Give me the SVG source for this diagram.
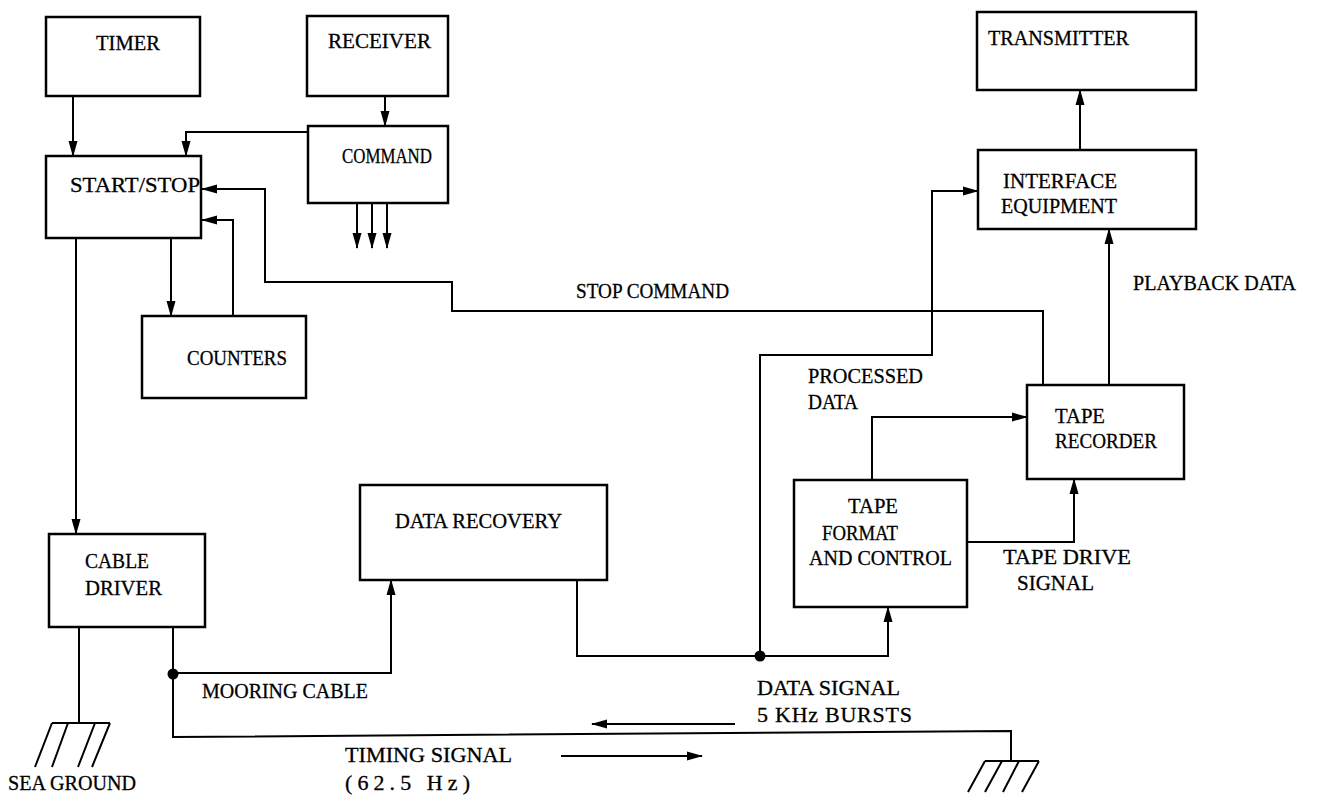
<svg xmlns="http://www.w3.org/2000/svg" width="1319" height="798" viewBox="0 0 1319 798">
<defs>
<marker id="ah" markerUnits="userSpaceOnUse" markerWidth="16" markerHeight="10" refX="15" refY="5" orient="auto" viewBox="0 0 16 10">
<path d="M0,0.5 L16,5 L0,9.5 Z" fill="#000"/>
</marker>
<style>
.box{fill:#fff;stroke:#000;stroke-width:2.5}
.ln{fill:none;stroke:#000;stroke-width:2;stroke-linejoin:miter}
.ar{fill:none;stroke:#000;stroke-width:2;marker-end:url(#ah)}
text{font-family:"Liberation Serif","Times New Roman",serif;font-size:22px;fill:#000;stroke:#000;stroke-width:0.3}
</style>
</defs>
<rect width="1319" height="798" fill="#fff"/>
<g id="connectors">
<path class="ar" d="M73,96 V156"/>
<path class="ar" d="M385,96 V126"/>
<path class="ar" d="M308,132 H186 V156"/>
<path class="ar" d="M357,203 V248"/>
<path class="ar" d="M372,203 V248"/>
<path class="ar" d="M387,203 V248"/>
<path class="ar" d="M1043,385 V311 H452 V282 H265 V189 H202"/>
<path class="ar" d="M233,316 V220 H202"/>
<path class="ar" d="M171,238 V316"/>
<path class="ar" d="M76,238 V534"/>
<path class="ln" d="M79,627 V723"/>
<path class="ln" d="M173,627 V737 L1011,731 V761"/>
<path class="ar" d="M173,673 H391 V580"/>
<path class="ar" d="M577,580 V656 H888 V607"/>
<path class="ar" d="M760,656 V355 H932 V191 H978"/>
<path class="ar" d="M872,480 V417 H1027"/>
<path class="ar" d="M967,542 H1074 V479"/>
<path class="ar" d="M1109,385 V229"/>
<path class="ar" d="M1080,150 V90"/>
<path class="ar" d="M735,724 H592"/>
<path class="ar" d="M561,756 H702"/>
<circle cx="173" cy="674" r="5.5" fill="#000"/>
<circle cx="760" cy="656" r="5.5" fill="#000"/>
</g>
<g id="sea-ground">
<path class="ln" d="M52,723 H110 M52,723 L35,767 M68,723 L52,767 M95,723 L78,767 M110,723 L92,767"/>
<text x="8" y="790" textLength="128" lengthAdjust="spacingAndGlyphs">SEA GROUND</text>
</g>
<g id="ground-right">
<path class="ln" d="M985,761 H1039 M985,761 L968,792 M1002,761 L985,792 M1019,761 L1003,792 M1039,761 L1022,792"/>
</g>
<g id="timer"><rect class="box" x="46" y="17" width="154" height="79"/><text x="96" y="50" textLength="64" lengthAdjust="spacingAndGlyphs">TIMER</text></g>
<g id="receiver"><rect class="box" x="307" y="16" width="141" height="80"/><text x="328" y="48" textLength="103" lengthAdjust="spacingAndGlyphs">RECEIVER</text></g>
<g id="command"><rect class="box" x="308" y="126" width="140" height="77"/><text x="342" y="163" textLength="90" lengthAdjust="spacingAndGlyphs">COMMAND</text></g>
<g id="startstop"><rect class="box" x="46" y="156" width="155" height="82"/><text x="70" y="192" textLength="130" lengthAdjust="spacingAndGlyphs">START/STOP</text></g>
<g id="counters"><rect class="box" x="142" y="316" width="164" height="82"/><text x="187" y="365" textLength="100" lengthAdjust="spacingAndGlyphs">COUNTERS</text></g>
<g id="cabledriver"><rect class="box" x="49" y="534" width="156" height="93"/><text x="85" y="568" textLength="64" lengthAdjust="spacingAndGlyphs">CABLE</text><text x="85" y="595" textLength="77" lengthAdjust="spacingAndGlyphs">DRIVER</text></g>
<g id="datarecovery"><rect class="box" x="360" y="485" width="247" height="95"/><text x="395" y="528" textLength="167" lengthAdjust="spacingAndGlyphs">DATA RECOVERY</text></g>
<g id="tapeformat"><rect class="box" x="794" y="480" width="173" height="127"/><text x="848" y="513" textLength="50" lengthAdjust="spacingAndGlyphs">TAPE</text><text x="822" y="540" textLength="76" lengthAdjust="spacingAndGlyphs">FORMAT</text><text x="809" y="565" textLength="143" lengthAdjust="spacingAndGlyphs">AND CONTROL</text></g>
<g id="taperecorder"><rect class="box" x="1027" y="385" width="157" height="94"/><text x="1055" y="423" textLength="50" lengthAdjust="spacingAndGlyphs">TAPE</text><text x="1055" y="448" textLength="102" lengthAdjust="spacingAndGlyphs">RECORDER</text></g>
<g id="interface"><rect class="box" x="978" y="150" width="218" height="79"/><text x="1003" y="188" textLength="114" lengthAdjust="spacingAndGlyphs">INTERFACE</text><text x="1001" y="213" textLength="116" lengthAdjust="spacingAndGlyphs">EQUIPMENT</text></g>
<g id="transmitter"><rect class="box" x="977" y="12" width="219" height="78"/><text x="988" y="45" textLength="141" lengthAdjust="spacingAndGlyphs">TRANSMITTER</text></g>
<g id="labels">
<text x="576" y="298" textLength="153" lengthAdjust="spacingAndGlyphs">STOP COMMAND</text>
<text x="1133" y="290" textLength="163" lengthAdjust="spacingAndGlyphs">PLAYBACK DATA</text>
<text x="808" y="383" textLength="115" lengthAdjust="spacingAndGlyphs">PROCESSED</text>
<text x="808" y="409" textLength="50" lengthAdjust="spacingAndGlyphs">DATA</text>
<text x="1003" y="564" textLength="128" lengthAdjust="spacingAndGlyphs">TAPE DRIVE</text>
<text x="1017" y="590" textLength="77" lengthAdjust="spacingAndGlyphs">SIGNAL</text>
<text x="202" y="698" textLength="166" lengthAdjust="spacingAndGlyphs">MOORING CABLE</text>
<text x="757" y="695" textLength="143" lengthAdjust="spacingAndGlyphs">DATA SIGNAL</text>
<text x="757" y="722" textLength="155" lengthAdjust="spacing">5 KHz BURSTS</text>
<text x="345" y="762" textLength="167" lengthAdjust="spacingAndGlyphs">TIMING SIGNAL</text>
<text x="345" y="790" textLength="125" lengthAdjust="spacing">(62.5 Hz)</text>
</g>
</svg>
